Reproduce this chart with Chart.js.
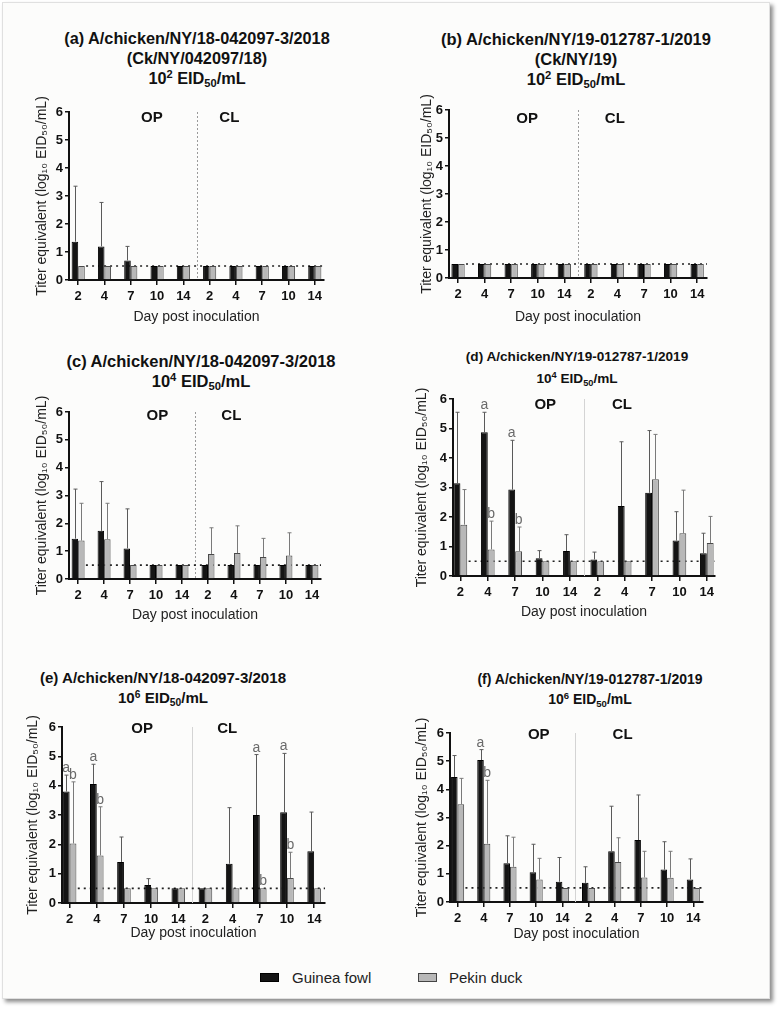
<!DOCTYPE html>
<html>
<head>
<meta charset="utf-8">
<script src="https://cdn.jsdelivr.net/npm/chart.js@4.4.1/dist/chart.umd.min.js"></script>
<style>
  html, body { margin: 0; padding: 0; background: #fff; }
  body { width: 780px; height: 1009px; position: relative; overflow: hidden;
         font-family: "Liberation Sans", Arial, sans-serif; color: #111; }
  .frame { position: absolute; left: 2px; top: 2px; width: 766px; height: 995px;
           background: #fcfcfb; border: 1px solid #e0e0e0;
           box-shadow: 3px 3px 4px rgba(0,0,0,0.45); }
  .title { position: absolute; width: 420px; text-align: center; font-weight: bold;
           white-space: nowrap; }
  .title sup { font-size: 68%; vertical-align: 0.5em; line-height: 0; }
  .title sub { font-size: 68%; vertical-align: -0.3em; line-height: 0; }
  canvas { position: absolute; }
  .swatch { position: absolute; width: 19px; height: 9px; box-sizing: border-box; }
  .legend-label { position: absolute; font-size: 15px; line-height: 18px; color: #222; }
</style>
</head>
<body>
<div class="frame"></div>
<div id="titles"></div>

<div class="swatch" style="left:260px; top:973px; background:#141414; border:1px solid #000;"></div>
<div class="legend-label" style="left:292px; top:969px;">Guinea fowl</div>
<div class="swatch" style="left:418px; top:973px; background:#b8b8b8; border:1px solid #444;"></div>
<div class="legend-label" style="left:449px; top:969px;">Pekin duck</div>

<script>
// x categories: days post inoculation, OP swabs then CL swabs
const dayLabels = ['2', '4', '7', '10', '14', '2', '4', '7', '10', '14'];
const yTickValues = [0, 1, 2, 3, 4, 5, 6];
const detectionLimit = 0.5;

// (a) Ck/NY/042097/18, 10^2
const aGuinea = [1.37, 1.2, 0.7, 0.5, 0.5, 0.5, 0.5, 0.5, 0.5, 0.5];
const aGuineaErr = [3.35, 2.77, 1.2, null, null, null, null, null, null, null];
const aDuck = [0.5, 0.5, 0.5, 0.5, 0.5, 0.5, 0.5, 0.5, 0.5, 0.5];
const aDuckErr = [null, null, null, null, null, null, null, null, null, null];

// (b) Ck/NY/19, 10^2
const bGuinea = [0.5, 0.5, 0.5, 0.5, 0.5, 0.5, 0.5, 0.5, 0.5, 0.5];
const bGuineaErr = [null, null, null, null, null, null, null, null, null, null];
const bDuck = [0.5, 0.5, 0.5, 0.5, 0.5, 0.5, 0.5, 0.5, 0.5, 0.5];
const bDuckErr = [null, null, null, null, null, null, null, null, null, null];

// (c) 042097, 10^4
const cGuinea = [1.45, 1.73, 1.1, 0.5, 0.5, 0.5, 0.5, 0.5, 0.5, 0.5];
const cGuineaErr = [3.23, 3.5, 2.52, null, null, null, null, null, null, null];
const cDuck = [1.38, 1.43, 0.5, 0.5, 0.5, 0.9, 0.93, 0.79, 0.84, 0.5];
const cDuckErr = [2.72, 2.72, null, null, null, 1.84, 1.91, 1.46, 1.66, null];

// (d) 012787, 10^4
const dGuinea = [3.14, 4.87, 2.93, 0.6, 0.85, 0.56, 2.37, 2.82, 1.2, 0.77];
const dGuineaErr = [5.55, 5.55, 4.6, 0.86, 1.4, 0.81, 4.55, 4.93, 2.18, 1.45];
const dDuck = [1.74, 0.9, 0.84, 0.5, 0.5, 0.5, 0.5, 3.28, 1.45, 1.12];
const dDuckErr = [2.93, 1.86, 1.66, null, null, null, null, 4.8, 2.91, 2.02];
const dGuineaSig = ['', 'a', 'a', '', '', '', '', '', '', ''];
const dDuckSig = ['', 'b', 'b', '', '', '', '', '', '', ''];

// (e) 042097, 10^6
const eGuinea = [3.8, 4.06, 1.4, 0.61, 0.5, 0.5, 1.34, 3.0, 3.09, 1.76];
const eGuineaErr = [4.36, 4.73, 2.25, 0.83, null, null, 3.25, 5.06, 5.1, 3.1];
const eDuck = [2.03, 1.62, 0.5, 0.5, 0.5, 0.5, 0.5, 0.5, 0.85, 0.5];
const eDuckErr = [4.13, 3.28, null, null, null, null, null, null, 1.73, null];
const eGuineaSig = ['a', 'a', '', '', '', '', '', 'a', 'a', ''];
const eDuckSig = ['b', 'b', '', '', '', '', '', 'b', 'b', ''];

// (f) 012787, 10^6
const fGuinea = [4.44, 5.04, 1.38, 1.06, 0.72, 0.68, 1.8, 2.2, 1.15, 0.8];
const fGuineaErr = [5.2, 5.41, 2.35, 2.05, 1.58, 1.25, 3.4, 3.8, 2.14, 1.53];
const fDuck = [3.47, 2.07, 1.25, 0.8, 0.5, 0.5, 1.42, 0.87, 0.86, 0.5];
const fDuckErr = [4.39, 4.32, 2.3, 1.55, null, null, 2.28, 1.8, 1.8, null];
const fGuineaSig = ['', 'a', '', '', '', '', '', '', '', ''];
const fDuckSig = ['', 'b', '', '', '', '', '', '', '', ''];

const noSig = ['', '', '', '', '', '', '', '', '', ''];

// layout of each panel on the page (box = canvas, area = plot area)
const panels = [
  { title: ['(a) A/chicken/NY/18-042097-3/2018', '(Ck/NY/042097/18)', '10<sup>2</sup> EID<sub>50</sub>/mL'],
    titleX: 197, titleY: 28, titleSize: 16.3, titleLine: 20,
    guinea: aGuinea, guineaErr: aGuineaErr, duck: aDuck, duckErr: aDuckErr, guineaSig: noSig, duckSig: noSig,
    box: { x: 34, y: 88, w: 311, h: 238 }, area: { l: 69, r: 324, t: 112, b: 280 },
    xRange: [-0.35, 9.35], divider: 'dotted', op: [2.8, 5.8], cl: [5.75, 5.8] },
  { title: ['(b) A/chicken/NY/19-012787-1/2019', '(Ck/NY/19)', '10<sup>2</sup> EID<sub>50</sub>/mL'],
    titleX: 576, titleY: 29, titleSize: 16.5, titleLine: 20,
    guinea: bGuinea, guineaErr: bGuineaErr, duck: bDuck, duckErr: bDuckErr, guineaSig: noSig, duckSig: noSig,
    box: { x: 419, y: 86, w: 311, h: 240 }, area: { l: 449, r: 707, t: 110, b: 278 },
    xRange: [-0.34, 9.37], divider: 'dotted', op: [2.6, 5.7], cl: [5.9, 5.7] },
  { title: ['(c) A/chicken/NY/18-042097-3/2018', '10<sup>4</sup> EID<sub>50</sub>/mL'],
    titleX: 201, titleY: 351, titleSize: 16.5, titleLine: 20,
    guinea: cGuinea, guineaErr: cGuineaErr, duck: cDuck, duckErr: cDuckErr, guineaSig: noSig, duckSig: noSig,
    box: { x: 34, y: 388, w: 311, h: 236 }, area: { l: 69, r: 321, t: 412, b: 579 },
    xRange: [-0.35, 9.35], divider: 'dotted', op: [3.05, 5.85], cl: [5.9, 5.85] },
  { title: ['(d) A/chicken/NY/19-012787-1/2019', '10<sup>4</sup> EID<sub>50</sub>/mL'],
    titleX: 577, titleY: 346, titleSize: 13.6, titleLine: 22,
    guinea: dGuinea, guineaErr: dGuineaErr, duck: dDuck, duckErr: dDuckErr, guineaSig: dGuineaSig, duckSig: dDuckSig,
    box: { x: 414, y: 376, w: 326, h: 245 }, area: { l: 453, r: 715, t: 399, b: 576 },
    xRange: [-0.27, 9.3], divider: 'solid', op: [3.1, 5.8], cl: [5.9, 5.8] },
  { title: ['(e) A/chicken/NY/18-042097-3/2018', '10<sup>6</sup> EID<sub>50</sub>/mL'],
    titleX: 163, titleY: 668, titleSize: 15.1, titleLine: 20,
    guinea: eGuinea, guineaErr: eGuineaErr, duck: eDuck, duckErr: eDuckErr, guineaSig: eGuineaSig, duckSig: eDuckSig,
    box: { x: 25, y: 703, w: 320, h: 239 }, area: { l: 62, r: 325, t: 727, b: 903 },
    xRange: [-0.28, 9.4], divider: 'solid', op: [2.67, 5.95], cl: [5.8, 5.95] },
  { title: ['(f) A/chicken/NY/19-012787-1/2019', '10<sup>6</sup> EID<sub>50</sub>/mL'],
    titleX: 590, titleY: 669, titleSize: 14, titleLine: 20,
    guinea: fGuinea, guineaErr: fGuineaErr, duck: fDuck, duckErr: fDuckErr, guineaSig: fGuineaSig, duckSig: fDuckSig,
    box: { x: 414, y: 710, w: 314, h: 233 }, area: { l: 450, r: 703, t: 733, b: 902 },
    xRange: [-0.29, 9.37], divider: 'solid', op: [3.1, 5.92], cl: [6.3, 5.92] }
];

const fontFamily = '"Liberation Sans", Arial, sans-serif';
Chart.defaults.font.family = fontFamily;
Chart.defaults.color = '#111';

// OP/CL divider, detection limit line, error bars, letters
const panelMarks = {
  id: 'panelMarks',
  beforeDatasetsDraw(chart, args, opts) {
    const { ctx, chartArea } = chart;
    const xs = chart.scales.x, ys = chart.scales.y;
    ctx.save();
    const dx = Math.round(xs.getPixelForValue(4.5)) + 0.5;
    ctx.lineWidth = 1;
    if (opts.divider === 'dotted') {
      ctx.strokeStyle = '#9a9a9a';
      ctx.setLineDash([2, 2]);
    } else {
      ctx.strokeStyle = '#d4d4d4';
    }
    ctx.beginPath();
    ctx.moveTo(dx, ys.getPixelForValue(6));
    ctx.lineTo(dx, ys.getPixelForValue(0));
    ctx.stroke();

    const ly = ys.getPixelForValue(detectionLimit);
    ctx.strokeStyle = '#222';
    ctx.lineWidth = 1.6;
    ctx.setLineDash([2, 4]);
    ctx.beginPath();
    ctx.moveTo(xs.getPixelForValue(0.3), ly);
    ctx.lineTo(chartArea.right, ly);
    ctx.stroke();
    ctx.restore();
  },
  afterDatasetsDraw(chart, args, opts) {
    const { ctx } = chart;
    const xs = chart.scales.x, ys = chart.scales.y;
    ctx.save();
    chart.data.datasets.forEach((ds, di) => {
      const meta = chart.getDatasetMeta(di);
      meta.data.forEach((bar, i) => {
        let yTop = bar.y;
        const top = ds.errTop[i];
        if (top != null && top > ds.data[i].y) {
          yTop = ys.getPixelForValue(top);
          const bx = Math.round(bar.x) + 0.5;
          ctx.strokeStyle = ds.errColor;
          ctx.lineWidth = 1;
          ctx.beginPath();
          ctx.moveTo(bx, bar.y);
          ctx.lineTo(bx, yTop);
          ctx.moveTo(bx - 2, yTop);
          ctx.lineTo(bx + 2, yTop);
          ctx.stroke();
        }
        const s = ds.sig[i];
        if (s) {
          ctx.fillStyle = '#6a6a6a';
          ctx.font = '14px ' + fontFamily;
          ctx.textAlign = 'center';
          ctx.textBaseline = 'alphabetic';
          ctx.fillText(s, bar.x, yTop - 3);
        }
      });
    });
    ctx.fillStyle = '#111';
    ctx.font = 'bold 15px ' + fontFamily;
    ctx.textAlign = 'center';
    ctx.textBaseline = 'middle';
    ctx.fillText('OP', xs.getPixelForValue(opts.op[0]), ys.getPixelForValue(opts.op[1]));
    ctx.fillText('CL', xs.getPixelForValue(opts.cl[0]), ys.getPixelForValue(opts.cl[1]));
    ctx.restore();
  }
};

const toPoints = vals => vals.map((v, i) => ({ x: i, y: v }));
const titles = document.getElementById('titles');

panels.forEach(p => {
  // title block
  const t = document.createElement('div');
  t.className = 'title';
  t.style.left = (p.titleX - 210) + 'px';
  t.style.top = p.titleY + 'px';
  t.style.fontSize = p.titleSize + 'px';
  t.style.lineHeight = p.titleLine + 'px';
  t.innerHTML = p.title.join('<br>');
  titles.appendChild(t);

  const canvas = document.createElement('canvas');
  canvas.width = p.box.w;
  canvas.height = p.box.h;
  canvas.style.left = p.box.x + 'px';
  canvas.style.top = p.box.y + 'px';
  document.body.appendChild(canvas);

  const yWidth = p.area.l - p.box.x;
  const xHeight = p.box.y + p.box.h - p.area.b;

  new Chart(canvas, {
    type: 'bar',
    data: {
      datasets: [
        { label: 'Guinea fowl', data: toPoints(p.guinea), errTop: p.guineaErr, sig: p.guineaSig,
          backgroundColor: '#141414', borderColor: '#000', borderWidth: 1, errColor: '#5a5a5a' },
        { label: 'Pekin duck', data: toPoints(p.duck), errTop: p.duckErr, sig: p.duckSig,
          backgroundColor: '#b8b8b8', borderColor: '#4a4a4a', borderWidth: 1, errColor: '#7a7a7a' }
      ]
    },
    options: {
      responsive: false,
      animation: false,
      events: [],
      categoryPercentage: 0.5,
      barPercentage: 1.0,
      layout: { padding: { left: 0, top: p.area.t - p.box.y, right: p.box.x + p.box.w - p.area.r, bottom: 0 } },
      plugins: {
        legend: { display: false },
        tooltip: { enabled: false },
        panelMarks: { divider: p.divider, op: p.op, cl: p.cl }
      },
      scales: {
        x: {
          type: 'linear',
          offset: false,
          min: p.xRange[0],
          max: p.xRange[1],
          afterBuildTicks: s => { s.ticks = dayLabels.map((d, i) => ({ value: i })); },
          afterFit: s => { s.height = xHeight; },
          ticks: {
            callback: v => dayLabels[v],
            font: { size: 13, weight: 'bold' },
            color: '#111',
            padding: 4,
            maxRotation: 0,
            autoSkip: false
          },
          grid: { display: true, drawOnChartArea: false, drawTicks: true, tickLength: 5, color: '#111', lineWidth: 1.5, offset: false },
          border: { display: true, color: '#111', width: 2 },
          title: { display: true, text: 'Day post inoculation', font: { size: 14 }, color: '#222', padding: 0 }
        },
        y: {
          min: 0,
          max: 6,
          afterBuildTicks: s => { s.ticks = yTickValues.map(v => ({ value: v })); },
          afterFit: s => { s.width = yWidth; },
          ticks: { font: { size: 13, weight: 'bold' }, color: '#111', padding: 2 },
          grid: { display: true, drawOnChartArea: false, drawTicks: true, tickLength: 4, color: '#111', lineWidth: 1.5 },
          border: { display: true, color: '#111', width: 2 },
          title: { display: true, text: 'Titer equivalent (log\u2081\u2080 EID\u2085\u2080/mL)', font: { size: 14 }, color: '#222', padding: 0 }
        }
      }
    },
    plugins: [panelMarks]
  });
});
</script>
</body>
</html>
